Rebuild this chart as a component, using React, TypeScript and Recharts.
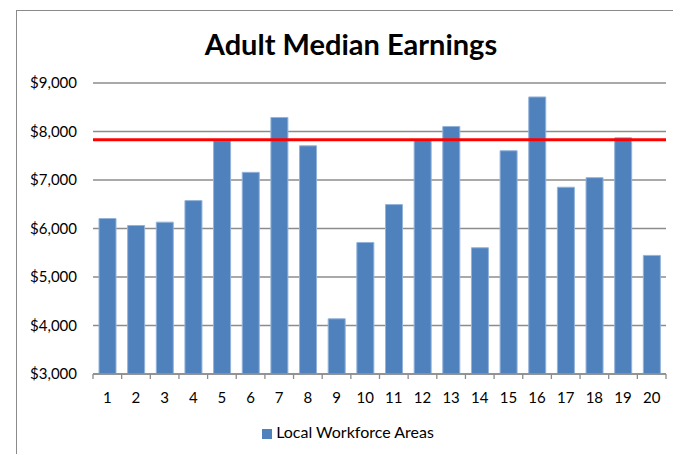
import React from "react";
import { BarChart, Bar, XAxis, YAxis, CartesianGrid, ReferenceLine, Legend } from "recharts";

const areas: string[] = ["1","2","3","4","5","6","7","8","9","10","11","12","13","14","15","16","17","18","19","20"];
const earnings: number[] = [6206, 6062, 6131, 6575, 7808, 7158, 8289, 7705, 4138, 5712, 6493, 7823, 8104, 5603, 7603, 8712, 6851, 7048, 7870, 5445];
const yTicks: number[] = [3000, 4000, 5000, 6000, 7000, 8000, 9000];
const benchmark = 7830;
const seriesName = "Local Workforce Areas";
const title = "Adult Median Earnings";

const data = areas.map((a, i) => ({ area: a, value: earnings[i] }));

const FONT = "Lato, 'Open Sans', sans-serif";

const fmt = (v: number) => "$" + v.toLocaleString("en-US");

const XTick = (props: any) => {
  const { x, y, payload, index, visibleTicksCount } = props;
  const off = payload && typeof payload.offset === "number" && payload.offset > 0 ? payload.offset : 573 / 20 / 2;
  const last = index === (visibleTicksCount ?? areas.length) - 1;
  return (
    <g>
      <line x1={x - off} x2={x - off} y1={y} y2={y + 5} stroke="#8c8c8c" strokeWidth={1.3} />
      {last && <line x1={x + off} x2={x + off} y1={y} y2={y + 5} stroke="#8c8c8c" strokeWidth={1.3} />}
      <text x={x} y={y + 29} textAnchor="middle" fontFamily={FONT} fontSize={15} fill="#000">
        {payload.value}
      </text>
    </g>
  );
};

export default function App() {
  return (
    <div style={{ position: "absolute", left: 0, top: 0, width: 673, height: 454, background: "#fff", overflow: "hidden" }}>
      <div style={{ position: "absolute", left: 17, top: 10, width: 656, height: 0, borderTop: "1.5px solid #8a8a8a" }} />
      <div style={{ position: "absolute", left: 16, top: 10, width: 0, height: 444, borderLeft: "1.5px solid #8a8a8a" }} />
      <div
        style={{
          position: "absolute",
          left: 17,
          top: 27,
          width: 668,
          textAlign: "center",
          fontFamily: FONT,
          fontWeight: 700,
          fontSize: 29,
          lineHeight: "34px",
          color: "#000",
        }}
      >
        {title}
      </div>
      <BarChart
        width={673}
        height={454}
        data={data}
        margin={{ top: 83, right: 7, left: 0, bottom: 9 }}
        barSize={17}
        style={{ position: "absolute", left: 0, top: 0 }}
      >
        <CartesianGrid vertical={false} stroke="#8c8c8c" strokeWidth={1.3} />
        <XAxis
          dataKey="area"
          height={46}
          tickLine={false}
          tickSize={0}
          tickMargin={0}
          axisLine={{ stroke: "#8c8c8c", strokeWidth: 1.5 }}
          tick={<XTick />}
          interval={0}
        />
        <YAxis
          width={93}
          domain={[3000, 9000]}
          ticks={yTicks}
          tickFormatter={fmt}
          axisLine={false}
          tickLine={false}
          tickSize={0}
          tickMargin={16}
          interval={0}
          tick={{ fontFamily: FONT, fontSize: 15, fill: "#000" }}
        />
        <Bar
          dataKey="value"
          name={seriesName}
          fill="#4f81bd"
          stroke="#93b3da"
          strokeWidth={1}
          isAnimationActive={false}
        />
        <ReferenceLine y={benchmark} stroke="#ff0000" strokeWidth={3} />
        <Legend
          verticalAlign="bottom"
          iconType="square"
          iconSize={10}
          formatter={(v: string) => <span style={{ color: "#000", fontFamily: FONT, fontSize: 16 }}>{v}</span>}
          wrapperStyle={{ lineHeight: "24px", left: 20 }}
        />
      </BarChart>
    </div>
  );
}
